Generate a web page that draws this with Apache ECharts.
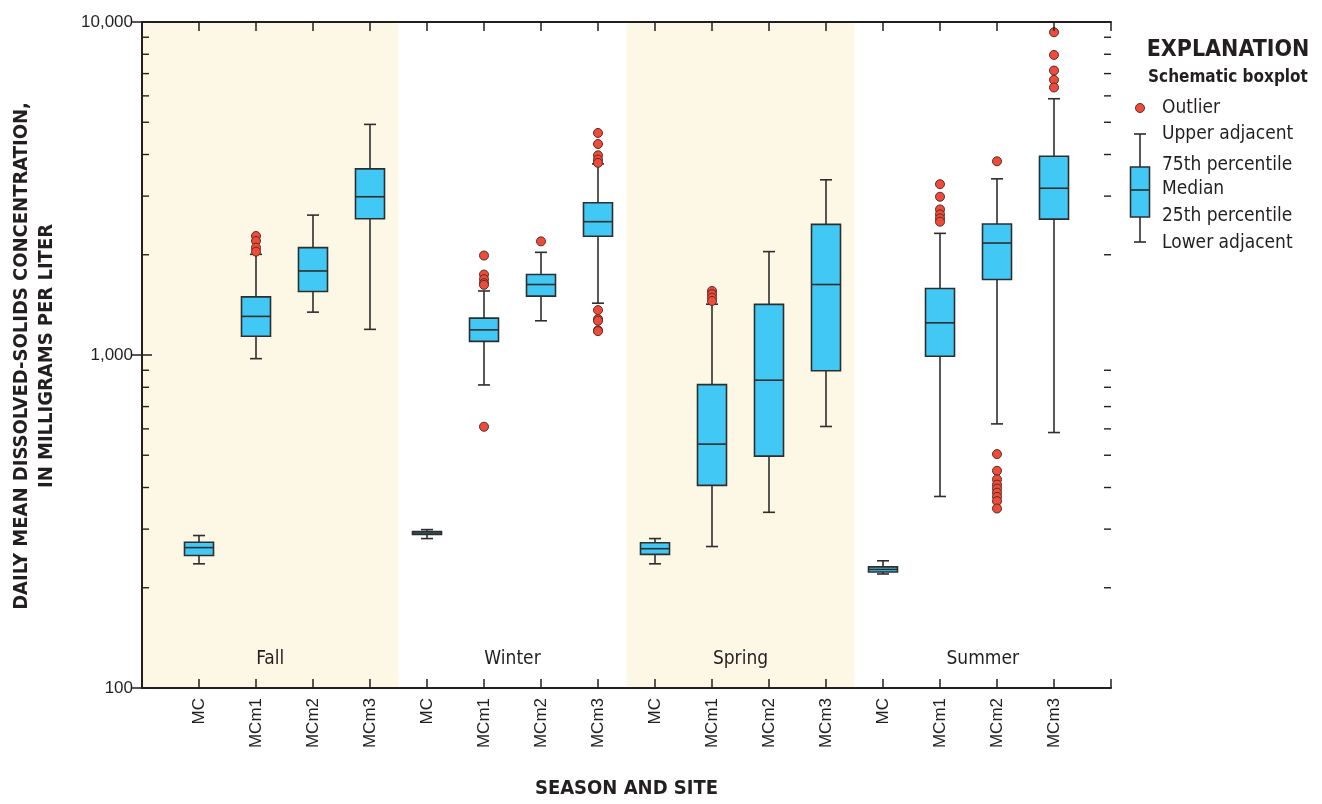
<!DOCTYPE html>
<html><head><meta charset="utf-8">
<script src="https://cdn.jsdelivr.net/npm/echarts@6/dist/echarts.min.js"></script>
<style>html,body{margin:0;padding:0;background:#fff}#c{width:1322px;height:804px}</style>
</head><body><div id="c"></div>
<script>
const seasons = ['Fall', 'Winter', 'Spring', 'Summer'];
const categories = ['MC','MCm1','MCm2','MCm3','MC','MCm1','MCm2','MCm3','MC','MCm1','MCm2','MCm3','MC','MCm1','MCm2','MCm3'];
const lowerAdjacent = [236, 975, 1345, 1194,  281, 813, 1267, 1431,  236, 266, 337, 610,  220, 376, 621, 585];
const percentile25  = [250, 1138, 1551, 2566, 289, 1099, 1502, 2272, 252, 406, 497, 897,  223, 991, 1685, 2559];
const medians       = [264, 1306, 1788, 2987, 292, 1190, 1628, 2514, 262, 540, 840, 1628, 227, 1249, 2169, 3168];
const percentile75  = [274, 1495, 2101, 3622, 295, 1290, 1744, 2866, 273, 815, 1419, 2468, 231, 1584, 2473, 3951];
const upperAdjacent = [287, 2006, 2631, 4926, 299, 1557, 2034, 3750, 281, 1421, 2044, 3358, 241, 2319, 3381, 5882];
// outliers: [category index (0-based), value]
const outliers = [
  [1,2277],[1,2200],[1,2101],[1,2044],
  [5,1989],[5,1744],[5,1689],[5,1643],[5,1624],[5,609],
  [6,2194],
  [7,4643],[7,4302],[7,3978],[7,3862],[7,3775],[7,1364],[7,1282],[7,1267],[7,1186],[7,1179],
  [9,1557],[9,1523],[9,1487],[9,1453],
  [13,3258],[13,2987],[13,2736],[13,2644],[13,2572],[13,2514],
  [14,3817],[14,504],[14,449],[14,423],[14,408],[14,397],[14,386],[14,375],[14,364],[14,346],
  [15,9316],[15,7964],[15,7148],[15,6703],[15,6359]
];
const yTickValues = [100, 1000, 10000];
const minorTickValues = [200,300,400,500,600,700,800,900,2000,3000,4000,5000,6000,7000,8000,9000];

const INK = '#231f20';
const NARROW = "'Liberation Sans Narrow','DejaVu Sans Condensed','Liberation Sans',sans-serif";
const SANS = "'Liberation Sans',Arial,sans-serif";

const chart = echarts.init(document.getElementById('c'), null, {renderer: 'canvas'});

const boxData = categories.map((c, i) => [i + 1, lowerAdjacent[i], percentile25[i], medians[i], percentile75[i], upperAdjacent[i]]);
const outlierData = outliers.map(o => [o[0] + 1, o[1]]);
const seasonData = seasons.map((s, i) => [i, 1000]);
const nCat = categories.length;

function renderBox(params, api) {
  const x = api.value(0);
  const lo = api.coord([x, api.value(1)]);
  const q1 = api.coord([x, api.value(2)]);
  const md = api.coord([x, api.value(3)]);
  const q3 = api.coord([x, api.value(4)]);
  const hi = api.coord([x, api.value(5)]);
  const cx = lo[0], hw = 14.5, cw = 6;
  const ls = {stroke: '#2e2e2e', lineWidth: 1.6};
  return {type: 'group', children: [
    {type: 'line', shape: {x1: cx, y1: hi[1], x2: cx, y2: q3[1]}, style: ls},
    {type: 'line', shape: {x1: cx, y1: q1[1], x2: cx, y2: lo[1]}, style: ls},
    {type: 'line', shape: {x1: cx - cw, y1: hi[1], x2: cx + cw, y2: hi[1]}, style: ls},
    {type: 'line', shape: {x1: cx - cw, y1: lo[1], x2: cx + cw, y2: lo[1]}, style: ls},
    {type: 'rect', shape: {x: cx - hw, y: q3[1], width: 2 * hw, height: q1[1] - q3[1]}, style: {fill: '#42C8F4', stroke: '#2e2e2e', lineWidth: 1.6}},
    {type: 'line', shape: {x1: cx - hw, y1: md[1], x2: cx + hw, y2: md[1]}, style: ls}
  ]};
}

function renderSeason(params, api) {
  const i = api.value(0);
  const cs = params.coordSys;
  const start = i === 0 ? 0 : 4 * i + 0.5;
  const end = i === seasons.length - 1 ? nCat + 1 : 4 * i + 4.5;
  const x0 = api.coord([start, 1000])[0];
  const x1 = api.coord([end, 1000])[0];
  return {type: 'group', children: [
    {type: 'rect', shape: {x: x0, y: cs.y, width: x1 - x0, height: cs.height},
      style: {fill: i % 2 === 0 ? '#FDF7E6' : 'rgba(0,0,0,0)'}},
    {type: 'text', x: (x0 + x1) / 2, y: cs.y + cs.height - 29,
      style: {text: seasons[i], fill: INK, font: "19px " + NARROW, textAlign: 'center', textVerticalAlign: 'middle'}}
  ]};
}

function renderMinorTick(params, api) {
  const cs = params.coordSys;
  const y = api.coord([1, api.value(1)])[1];
  const st = {stroke: INK, lineWidth: 1.4};
  return {type: 'group', children: [
    {type: 'line', shape: {x1: cs.x, y1: y, x2: cs.x + 7, y2: y}, style: st},
    {type: 'line', shape: {x1: cs.x + cs.width - 7, y1: y, x2: cs.x + cs.width, y2: y}, style: st}
  ]};
}

const xAxisBase = {
  type: 'value', min: 0, max: nCat + 1, interval: 1, z: 5,
  axisLine: {show: true, lineStyle: {color: INK, width: 2}},
  axisTick: {show: true, inside: true, length: 9, lineStyle: {color: INK, width: 1.5}},
  splitLine: {show: false}
};
const yAxisBase = {
  type: 'log', logBase: 10, min: 100, max: 10000, z: 5,
  axisLine: {show: true, lineStyle: {color: INK, width: 2}},
  axisTick: {show: true, inside: true, length: 10, lineStyle: {color: INK, width: 1.5}},
  splitLine: {show: false}, minorTick: {show: false}
};

const legendX = 1140;
const LEG_FONT = "19px " + NARROW;
const option = {
  animation: false,
  backgroundColor: '#ffffff',
  grid: {left: 142, right: 211, top: 22, bottom: 114},
  xAxis: [
    Object.assign({}, xAxisBase, {
      position: 'bottom',
      axisLabel: {rotate: 90, margin: 10, fontSize: 17, color: INK, fontFamily: SANS,
        formatter: v => (v >= 1 && v <= nCat) ? categories[v - 1] : ''},
      name: 'SEASON AND SITE', nameLocation: 'middle', nameGap: 91,
      nameTextStyle: {fontSize: 20, fontWeight: 'bold', color: INK, fontFamily: NARROW}
    }),
    Object.assign({}, xAxisBase, {position: 'top', axisLabel: {show: false}})
  ],
  yAxis: [
    Object.assign({}, yAxisBase, {
      position: 'left',
      axisLabel: {fontSize: 17, color: INK, fontFamily: SANS, margin: 9,
        formatter: v => yTickValues.indexOf(Math.round(v)) >= 0 ? Math.round(v).toLocaleString('en-US') : ''}
    }),
    Object.assign({}, yAxisBase, {position: 'right', axisLabel: {show: false}})
  ],
  series: [
    {type: 'custom', name: 'seasons', z: 1, silent: true, renderItem: renderSeason, data: seasonData,
      encode: {x: 0, y: 1}, clip: false},
    {type: 'custom', name: 'minorTicks', z: 6, silent: true, renderItem: renderMinorTick,
      data: minorTickValues.map(v => [1, v]), encode: {x: 0, y: 1}, clip: false},
    {type: 'custom', name: 'boxes', z: 3, renderItem: renderBox, data: boxData,
      encode: {x: 0, y: [1, 2, 3, 4, 5]}},
    {type: 'scatter', name: 'Outlier', z: 4, data: outlierData, symbol: 'circle', symbolSize: 9,
      itemStyle: {color: '#EE4B3B', borderColor: '#5e2a22', borderWidth: 1, opacity: 1}}
  ],
  graphic: [
    {type: 'text', x: 34, y: 356, z: 10, rotation: Math.PI / 2,
      style: {text: 'DAILY MEAN DISSOLVED-SOLIDS CONCENTRATION,\nIN MILLIGRAMS PER LITER', fill: INK,
        font: "bold 20px " + NARROW, textAlign: 'center', textVerticalAlign: 'middle', lineHeight: 25}},
    {type: 'text', x: 1228, y: 50, z: 10,
      style: {text: 'EXPLANATION', fill: INK, font: "bold 23px " + NARROW, textAlign: 'center', textVerticalAlign: 'middle'}},
    {type: 'text', x: 1228, y: 78, z: 10,
      style: {text: 'Schematic boxplot', fill: INK, font: "bold 17px " + NARROW, textAlign: 'center', textVerticalAlign: 'middle'}},
    {type: 'circle', z: 10, shape: {cx: legendX, cy: 108, r: 4.5}, style: {fill: '#EE4B3B', stroke: '#5e2a22', lineWidth: 1}},
    {type: 'line', z: 10, shape: {x1: legendX, y1: 134, x2: legendX, y2: 242}, style: {stroke: '#2e2e2e', lineWidth: 1.6}},
    {type: 'line', z: 10, shape: {x1: legendX - 6, y1: 134, x2: legendX + 6, y2: 134}, style: {stroke: '#2e2e2e', lineWidth: 1.6}},
    {type: 'line', z: 10, shape: {x1: legendX - 6, y1: 242, x2: legendX + 6, y2: 242}, style: {stroke: '#2e2e2e', lineWidth: 1.6}},
    {type: 'rect', z: 11, shape: {x: legendX - 9.5, y: 167, width: 19, height: 50}, style: {fill: '#42C8F4', stroke: '#2e2e2e', lineWidth: 1.6}},
    {type: 'line', z: 12, shape: {x1: legendX - 9.5, y1: 190, x2: legendX + 9.5, y2: 190}, style: {stroke: '#2e2e2e', lineWidth: 1.6}},
    {type: 'text', x: 1162, y: 108, z: 10, style: {text: 'Outlier', fill: INK, font: LEG_FONT, textVerticalAlign: 'middle'}},
    {type: 'text', x: 1162, y: 134, z: 10, style: {text: 'Upper adjacent', fill: INK, font: LEG_FONT, textVerticalAlign: 'middle'}},
    {type: 'text', x: 1162, y: 165, z: 10, style: {text: '75th percentile', fill: INK, font: LEG_FONT, textVerticalAlign: 'middle'}},
    {type: 'text', x: 1162, y: 189, z: 10, style: {text: 'Median', fill: INK, font: LEG_FONT, textVerticalAlign: 'middle'}},
    {type: 'text', x: 1162, y: 216, z: 10, style: {text: '25th percentile', fill: INK, font: LEG_FONT, textVerticalAlign: 'middle'}},
    {type: 'text', x: 1162, y: 243, z: 10, style: {text: 'Lower adjacent', fill: INK, font: LEG_FONT, textVerticalAlign: 'middle'}}
  ]
};
chart.setOption(option);
</script>
</body></html>
